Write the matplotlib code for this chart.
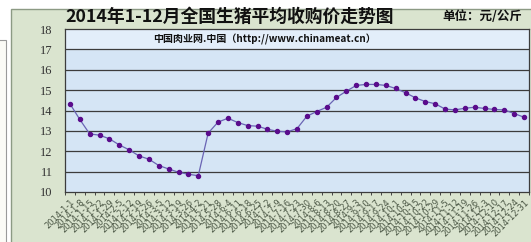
import matplotlib
matplotlib.use("Agg")
import matplotlib.pyplot as plt
from matplotlib.patches import Rectangle

plt.rcParams['font.family'] = ['Noto Sans CJK SC', 'DejaVu Sans']

# weekly average hog purchase price, yuan/kg
dates = ["2014-1-1", "2014-1-8", "2014-1-15", "2014-1-22", "2014-1-29",
         "2014-2-5", "2014-2-12", "2014-2-19", "2014-2-26", "2014-3-5",
         "2014-3-12", "2014-3-19", "2014-3-26", "2014-4-2", "2014-5-21",
         "2014-5-28", "2014-6-4", "2014-6-11", "2014-6-18", "2014-6-25",
         "2014-7-2", "2014-7-9", "2014-7-16", "2014-7-23", "2014-7-30",
         "2014-8-6", "2014-8-13", "2014-8-20", "2014-8-27", "2014-9-3",
         "2014-9-10", "2014-9-17", "2014-9-24", "2014-10-1", "2014-10-8",
         "2014-10-15", "2014-10-22", "2014-10-29", "2014-11-5", "2014-11-12",
         "2014-11-19", "2014-11-26", "2014-12-3", "2014-12-10", "2014-12-17",
         "2014-12-24", "2014-12-31"]
prices = [14.33, 13.56, 12.85, 12.79, 12.61, 12.31, 12.07, 11.77, 11.61, 11.30,
          11.13, 10.97, 10.87, 10.80, 12.89, 13.43, 13.62, 13.41, 13.26, 13.23,
          13.08, 12.98, 12.95, 13.11, 13.72, 13.95, 14.16, 14.64, 14.95, 15.23,
          15.28, 15.28, 15.23, 15.08, 14.87, 14.62, 14.44, 14.33, 14.07, 14.03,
          14.11, 14.16, 14.10, 14.05, 14.03, 13.85, 13.67]
y_ticks = [10, 11, 12, 13, 14, 15, 16, 17, 18]

W, H = 531, 242
fig = plt.figure(figsize=(W / 100, H / 100), dpi=100)
fig.patch.set_facecolor('white')

# side box on the left and the green panel (behind the axes)
fig.add_artist(Rectangle((-0.01, -0.01), 6 / W + 0.01, 1 - 40 / H + 0.01,
                         transform=fig.transFigure, facecolor='#fbfbf6',
                         edgecolor='#9a9a9a', linewidth=0.8, zorder=-10))
fig.add_artist(Rectangle((11 / W, -0.01), 1, 1 - 9 / H + 0.01,
                         transform=fig.transFigure, facecolor='#dae4cf',
                         edgecolor='#8c9a84', linewidth=1.0, zorder=-10))

x0, x1 = 65, 529
ytop, ybot = 29, 192
ax = fig.add_axes([x0 / W, 1 - ybot / H, (x1 - x0) / W, (ybot - ytop) / H])
ax.set_facecolor('#d5e5f5')

n = len(prices)
xs = list(range(n))
ax.set_xlim(-0.5, n - 0.5)
ax.set_ylim(y_ticks[0], y_ticks[-1])

# lighter top band holding the source line
ax.axhspan(17, 18, color='#e3eefa', zorder=0)
for v in y_ticks[1:-1]:
    ax.axhline(v, color='#3c3c3c', linewidth=0.9, zorder=1)

ax.plot(xs, prices, color='#6a64b4', linewidth=0.9, zorder=3,
        marker='o', markersize=2.9, markerfacecolor='#5a0c8c',
        markeredgecolor='#5a0c8c')

ax.set_yticks(y_ticks)
ax.set_yticklabels([str(v) for v in y_ticks], family='Liberation Serif',
                   fontsize=9, color='#333333')
ax.tick_params(axis='y', length=0, pad=9)

ax.set_xticks(xs)
ax.set_xticklabels(dates, rotation=45, ha='right', rotation_mode='anchor',
                   fontsize=6, color='#4a5644', family='DejaVu Sans')
ax.set_xticks([i - 0.5 for i in range(n + 1)], minor=True)
ax.tick_params(axis='x', which='major', length=0, pad=4)
ax.tick_params(axis='x', which='minor', length=2.5, color='#444444', width=0.7)

for s in ax.spines.values():
    s.set_color('#3c3c3c')
    s.set_linewidth(0.9)

ax.text(0.431, 17.5, '中国肉业网.中国（http://www.chinameat.cn）',
        transform=ax.get_yaxis_transform(), ha='center', va='center',
        fontsize=7.2, fontweight='bold', color='#111111')

fig.text(65 / W, 1 - 17 / H, '2014年1-12月全国生猪平均收购价走势图',
         ha='left', va='center', fontsize=12.8, fontweight='bold',
         color='#111111')
fig.text(522 / W, 1 - 17 / H, '单位：元/公斤', ha='right', va='center',
         fontsize=9, fontweight='bold', color='#111111')

fig.savefig('out.png', dpi=100)
